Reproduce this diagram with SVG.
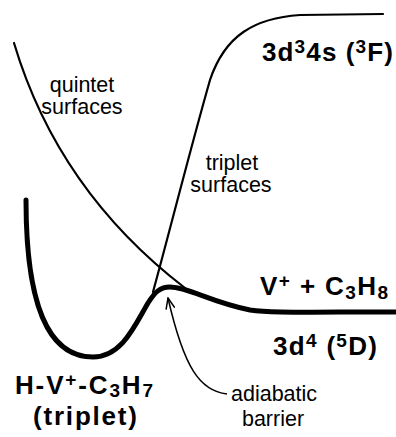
<svg xmlns="http://www.w3.org/2000/svg" width="396" height="437" viewBox="0 0 396 437">
<style>
.curve{fill:none;stroke:#000;stroke-linecap:round;stroke-linejoin:round}
.thin{stroke-width:2.2}
.thick{stroke-width:5}
.lbl{font-family:"Liberation Sans",Arial,Helvetica,sans-serif;font-size:21.5px;fill:#000}
.big{font-family:"Liberation Sans",Arial,Helvetica,sans-serif;font-size:26px;font-weight:bold;fill:#000}
.conn{fill:none;stroke:#000;stroke-width:1.5}
</style>
<defs>
<marker id="ah" viewBox="0 0 12 10" refX="11" refY="5" markerWidth="12" markerHeight="10" markerUnits="userSpaceOnUse" orient="auto">
<path d="M0,0.5 L11,5 L0,9.5" fill="none" stroke="#000" stroke-width="1.5"/>
</marker>
</defs>
<rect width="396" height="437" fill="#fff"/>
<g id="quintet-surface">
<path class="curve thin" d="M14,43 C40,130 90,215 185,288"/>
<text class="lbl" x="82" y="92" text-anchor="middle">quintet</text>
<text class="lbl" x="82" y="114" text-anchor="middle">surfaces</text>
</g>
<g id="triplet-surface">
<path class="curve thin" d="M153,292 C170,230 190,150 210,80 C225,35 255,18 300,15 L383,14"/>
<text class="lbl" x="232" y="170" text-anchor="middle">triplet</text>
<text class="lbl" x="231" y="192" text-anchor="middle">surfaces</text>
</g>
<g id="ground-surface">
<path class="curve thick" d="M26,200 C26,330 60,357 93,357 C122,357 135,325 148,303 C155,292 160,287 170,287 C188,287 210,302 250,310 C270,313 300,312 396,312"/>
</g>
<g id="asymptote-3F">
<text class="big" x="262" y="61" textLength="131" lengthAdjust="spacing">3d<tspan font-size="19" dy="-8">3</tspan><tspan dy="8">4s (</tspan><tspan font-size="19" dy="-8">3</tspan><tspan dy="8">F)</tspan></text>
</g>
<g id="asymptote-reactants">
<text class="big" x="260" y="295" textLength="128" lengthAdjust="spacing">V<tspan font-size="19" dy="-8">+</tspan><tspan dy="8"> + C</tspan><tspan font-size="19" dy="4">3</tspan><tspan dy="-4">H</tspan><tspan font-size="19" dy="4">8</tspan></text>
<text class="big" x="273" y="355" textLength="104" lengthAdjust="spacing">3d<tspan font-size="19" dy="-8">4</tspan><tspan dy="8"> (</tspan><tspan font-size="19" dy="-8">5</tspan><tspan dy="8">D)</tspan></text>
</g>
<g id="insertion-intermediate">
<text class="big" x="15" y="394" textLength="138" lengthAdjust="spacing">H-V<tspan font-size="19" dy="-8">+</tspan><tspan dy="8">-C</tspan><tspan font-size="19" dy="3">3</tspan><tspan dy="-3">H</tspan><tspan font-size="19" dy="3">7</tspan></text>
<text class="big" x="33" y="425" textLength="104" lengthAdjust="spacing">(triplet)</text>
</g>
<g id="adiabatic-barrier">
<text class="lbl" x="231" y="401">adiabatic</text>
<text class="lbl" x="273" y="426" text-anchor="middle">barrier</text>
</g>
<g id="connectors">
<path class="conn" d="M227,394 C200,391 184,368 168,298" marker-end="url(#ah)"/>
</g>
</svg>
